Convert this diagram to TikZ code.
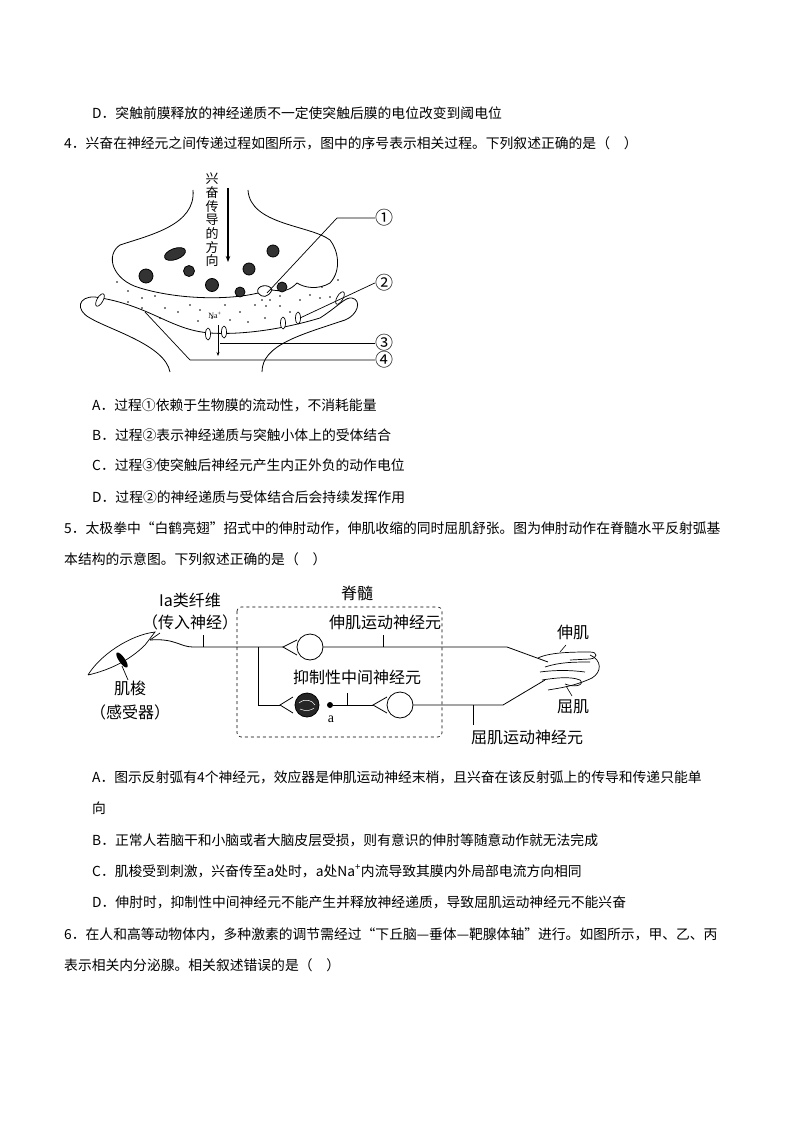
\documentclass[tikz,border=0pt]{standalone}
\usepackage{fontspec}
\usetikzlibrary{arrows.meta}
\setmainfont{Liberation Serif}
\newfontfamily\cjk{Noto Sans CJK SC}
\begin{document}
\begin{tikzpicture}[x=1pt,y=-1pt,
  txt/.style={anchor=west,inner sep=0pt,font=\cjk\fontsize{13.8}{16}\selectfont},
  lab/.style={inner sep=0pt,font=\cjk\fontsize{16}{18}\selectfont},
  ln/.style={line width=0.8pt},
  ves/.style={draw,line width=0.8pt,fill=black!80},
  rec/.style={draw,line width=0.7pt,fill=white},
  num/.style={inner sep=0pt,font=\cjk\fontsize{18}{18}\selectfont}]
\useasboundingbox (0,0) rectangle (794,1123);
% ---------- text
\node[txt] (t1) at (92,113) {D．突触前膜释放的神经递质不一定使突触后膜的电位改变到阈电位};
\node[txt] (t2) at (64,143) {4．兴奋在神经元之间传递过程如图所示，图中的序号表示相关过程。下列叙述正确的是（\quad）};
\node[txt] (t3) at (92,405) {A．过程①依赖于生物膜的流动性，不消耗能量};
\node[txt] (t4) at (92,435) {B．过程②表示神经递质与突触小体上的受体结合};
\node[txt] (t5) at (92,465) {C．过程③使突触后神经元产生内正外负的动作电位};
\node[txt] (t6) at (92,497) {D．过程②的神经递质与受体结合后会持续发挥作用};
\node[txt,text width=716pt,align=justify] (t7) at (64,528) {5．太极拳中“白鹤亮翅”招式中的伸肘动作，伸肌收缩的同时屈肌舒张。图为伸肘动作在脊髓水平反射弧基};
\node[txt] (t8) at (64,559) {本结构的示意图。下列叙述正确的是（\quad）};
\node[txt,text width=688pt,align=justify] (t9) at (92,777) {A．图示反射弧有4个神经元，效应器是伸肌运动神经末梢，且兴奋在该反射弧上的传导和传递只能单};
\node[txt] (t10) at (92,808) {向};
\node[txt] (t11) at (92,840) {B．正常人若脑干和小脑或者大脑皮层受损，则有意识的伸肘等随意动作就无法完成};
\node[txt] (t12) at (92,871) {C．肌梭受到刺激，兴奋传至a处时，a处Na\textsuperscript{+}内流导致其膜内外局部电流方向相同};
\node[txt] (t13) at (92,902) {D．伸肘时，抑制性中间神经元不能产生并释放神经递质，导致屈肌运动神经元不能兴奋};
\node[txt,text width=716pt,align=justify] (t14) at (64,934) {6．在人和高等动物体内，多种激素的调节需经过“下丘脑—垂体—靶腺体轴”进行。如图所示，甲、乙、丙};
\node[txt] (t15) at (64,965) {表示相关内分泌腺。相关叙述错误的是（\quad）};
% ---------- synapse
\draw[ln] (193,190) .. controls (196,225) and (150,235) .. (120,245)
  .. controls (105,255) and (112,280) .. (140,288)
  .. controls (180,300) and (230,300) .. (258,293)
  .. controls (262,298) and (268,298) .. (272,290)
  .. controls (285,292) and (290,290) .. (297,283)
  .. controls (305,288) and (318,290) .. (330,283)
  .. controls (342,270) and (338,250) .. (330,240)
  .. controls (310,225) and (250,225) .. (248,190);
\draw[ln] (258,293) .. controls (255,285) and (270,283) .. (272,290);
\draw[ln] (170,372) .. controls (165,345) and (110,330) .. (90,318)
  .. controls (75,310) and (78,296) .. (95,297)
  .. controls (150,305) and (170,330) .. (210,333)
  .. controls (240,335) and (280,330) .. (320,318)
  .. controls (340,305) and (345,297) .. (352,298)
  .. controls (362,300) and (358,315) .. (345,320)
  .. controls (300,335) and (262,345) .. (262,372);
\foreach \p/\r in {(146,276)/7,(189,271)/5.5,(212,285)/6.5,(249,269)/6,(273,251)/6,(240,292)/5,(282,287)/5}
  \fill[ves] \p circle (\r);
\fill[ves,rotate around={20:(175,254)}] (175,254) ellipse (11 and 5.5);
\foreach \p in {(100,300),(340,298)}
  \draw[rec,rotate around={-30:\p}] \p ellipse (3 and 7);
\draw[rec] (208,334) ellipse (2.5 and 6);
\draw[rec] (224,332) ellipse (2.5 and 6);
\draw[rec] (283,323) ellipse (2.5 and 6);
\draw[rec] (298,318) ellipse (2.5 and 6);
\foreach \x/\y in {117/282, 128/291, 142/298, 155/296, 128/302, 165/308, 178/312, 190/305, 200/310, 212/318, 225/305, 240/312, 255/305, 262/300, 266/306, 270/300, 280/306, 290/312, 300/300, 310/295, 320/298, 330/297, 338/280, 142/308, 160/318, 230/320, 248/322, 265/318, 280/296, 322/287, 198/321}
  \fill (\x,\y) circle (0.9);
\node[inner sep=0pt,font=\fontsize{8}{9}\selectfont] (na) at (215,315) {Na\textsuperscript{+}};
\node[inner sep=0pt,font=\cjk\fontsize{13}{13.7}\selectfont,align=center] (dir) at (212,220) {兴\\奋\\传\\导\\的\\方\\向};
\coordinate (ar1) at (228,188); \coordinate (ar2) at (228,262);
\draw[line width=1.4pt,-{Stealth[length=6pt]}] (ar1) -- (ar2);
\coordinate (na1) at (218,325); \coordinate (na2) at (218,356);
\draw[line width=0.7pt,-{Stealth[length=4pt]}] (na1) -- (na2);
\node[num] (c1) at (384,218) {①};
\node[num] (c2) at (384,283) {②};
\node[num] (c3) at (384,343) {③};
\node[num] (c4) at (384,360) {④};
\coordinate (k1) at (337,218); \coordinate (e1) at (267,293);
\coordinate (e2) at (300,318);
\coordinate (e3) at (220,343);
\coordinate (k4) at (190,360); \coordinate (e4) at (145,312);
\draw[line width=0.7pt] (c1.west) -- (k1) -- (e1);
\draw[line width=0.7pt] (c2.west) -- (e2);
\draw[line width=0.7pt] (c3.west) -- (e3);
\draw[line width=0.7pt] (c4.west) -- (k4) -- (e4);
% ---------- reflex arc
\draw[dashed,rounded corners=4pt,line width=0.6pt] (237,607) rectangle (442,737);
\node[lab] (jisui) at (357,593) {脊髓};
\node[lab] (ia) at (190,600) {Ia类纤维};
\node[lab] (cr) at (190,622) {（传入神经）};
\node[lab] (sj) at (385,622) {伸肌运动神经元};
\node[lab] (yz) at (357,677) {抑制性中间神经元};
\node[lab] (qj) at (527,737) {屈肌运动神经元};
\node[lab] (sjr) at (573,632) {伸肌};
\node[lab] (qjr) at (573,707) {屈肌};
\node[lab] (js) at (130,688) {肌梭};
\node[lab] (gs) at (130,712) {（感受器）};
% spindle
\draw[line width=0.7pt] (88,675) .. controls (100,655) and (130,635) .. (155,632) -- (145,645)
  .. controls (130,660) and (110,670) .. (88,675);
\draw[line width=0.7pt] (150,640) -- (160,633);
\fill[rotate around={-55:(122,660)}] (122,660) ellipse (9 and 3);
\draw[line width=0.7pt] (122,666) -- (128,680);
% neurons
\node[draw,circle,minimum size=26pt,inner sep=0pt,line width=0.8pt] (n1) at (310,647) {};
\node[draw,circle,minimum size=24pt,inner sep=0pt,line width=0.8pt,fill=black!85] (n2) at (307,705) {};
\node[draw,circle,minimum size=26pt,inner sep=0pt,line width=0.8pt] (n3) at (400,705) {};
\node[circle,fill,minimum size=6pt,inner sep=0pt] (pa) at (330,705) {};
\node[inner sep=0pt,font=\fontsize{14}{14}\selectfont] (la) at (331,719) {a};
\draw[white,line width=0.5pt] (299,703) .. controls (305,698) and (312,700) .. (315,705) (300,709) .. controls (306,712) and (312,710) .. (314,708);
\coordinate (s0) at (150,640); \coordinate (s1) at (193,647);
\coordinate (d1) at (283,647); \coordinate (b1) at (258,647); \coordinate (b2) at (258,705);
\coordinate (d2) at (280,705); \coordinate (d3) at (373,705);
\coordinate (m1) at (507,647); \coordinate (m2) at (548,662);
\coordinate (m3) at (503,705); \coordinate (m4) at (545,680);
\draw[ln] (s0) .. controls (175,638) and (180,647) .. (s1) -- (d1);
\draw[ln] (297,640) -- (d1) -- (297,655);
\draw[ln] (n1.east) -- (m1) -- (m2);
\draw[ln] (b1) -- (b2) -- (d2);
\draw[ln] (293,697) -- (d2) -- (293,713);
\draw[ln] (pa) -- (d3);
\draw[ln] (387,697) -- (d3) -- (387,713);
\draw[ln] (n3.east) -- (m3) -- (m4);
\draw[ln] (203,647) -- (203,635);
\draw[ln] (383,647) -- (383,635);
\draw[ln] (347,705) -- (347,693);
\draw[ln] (473,705) -- (473,725);
% muscle
\draw[line width=0.7pt] (538,658) .. controls (550,652) and (575,652) .. (590,652) .. controls (598,652) and (598,658) .. (590,659) -- (570,660);
\draw[line width=0.7pt] (545,667) .. controls (560,662) and (575,662) .. (590,662);
\draw[line width=0.7pt] (590,655) .. controls (602,660) and (602,672) .. (592,678);
\draw[line width=0.7pt] (540,672) .. controls (555,670) and (570,670) .. (585,672);
\draw[line width=0.7pt] (542,680) .. controls (555,678) and (570,676) .. (580,680) .. controls (585,685) and (575,688) .. (565,684);
\draw[line width=0.7pt] (548,690) .. controls (560,688) and (575,686) .. (592,678);
\draw[line width=0.6pt] (560,652) -- (566,645);
\draw[line width=0.6pt] (566,686) -- (572,696);
\end{tikzpicture}
\end{document}
